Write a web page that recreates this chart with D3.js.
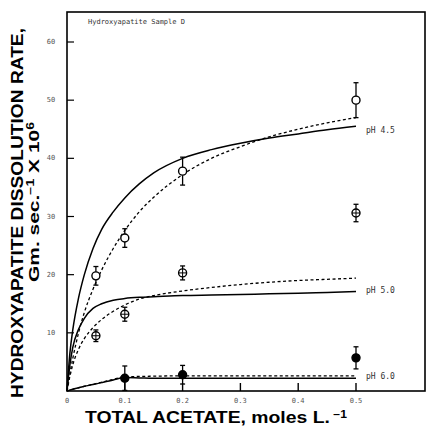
<!DOCTYPE html>
<html>
<head>
<meta charset="utf-8">
<script src="https://cdn.jsdelivr.net/npm/d3@7"></script>
<style>
  html, body { margin: 0; padding: 0; background: #fff; }
  svg { display: block; }
</style>
</head>
<body>
<div id="chart"></div>
<script>
// measured points (open / crossed / filled circles)
const pointX = [0.05, 0.1, 0.2, 0.5];
const ph45Rate = [19.8, 26.3, 37.8, 50.0];
const ph45Err = [1.6, 1.6, 2.4, 3.0];
const ph50Rate = [9.5, 13.2, 20.3, 30.6];
const ph50Err = [1.0, 1.2, 1.2, 1.5];
const ph60X = [0.1, 0.2, 0.5];
const ph60Rate = [2.2, 2.8, 5.7];
const ph60Err = [2.1, 1.6, 1.9];

// fitted curves
const curveX = [0, 0.005, 0.01, 0.02, 0.03, 0.045, 0.06, 0.08, 0.1, 0.125, 0.15, 0.2, 0.25, 0.3, 0.35, 0.4, 0.45, 0.5];
const ph45Solid = [0, 6.5, 10.5, 16.0, 20.0, 24.5, 27.8, 30.8, 33.2, 35.6, 37.5, 40.0, 41.5, 42.6, 43.5, 44.2, 44.9, 45.5];
const ph45Dash = [0, 3.0, 5.6, 10.0, 13.5, 17.5, 20.8, 24.5, 27.6, 30.8, 33.3, 37.2, 40.0, 42.0, 43.7, 45.0, 46.1, 47.0];
const ph50Solid = [0, 4.5, 7.5, 10.6, 12.5, 14.2, 15.0, 15.6, 15.9, 16.1, 16.2, 16.4, 16.5, 16.6, 16.7, 16.8, 16.95, 17.1];
const ph50Dash = [0, 2.5, 4.5, 7.2, 9.0, 10.9, 12.3, 13.7, 14.8, 15.8, 16.4, 17.2, 17.8, 18.3, 18.7, 19.0, 19.2, 19.4];
const ph60Solid = [0, 0.15, 0.3, 0.55, 0.8, 1.1, 1.45, 1.9, 2.3, 2.25, 2.2, 2.2, 2.2, 2.2, 2.2, 2.2, 2.2, 2.2];
const ph60Dash = [0, 0.15, 0.3, 0.55, 0.8, 1.15, 1.5, 2.0, 2.45, 2.5, 2.55, 2.6, 2.6, 2.6, 2.6, 2.6, 2.6, 2.6];

const xTicks = [0, 0.1, 0.2, 0.3, 0.4, 0.5];
const xTickLabels = ["0", "0.1", "0.2", "0.3", "0.4", "0.5"];
const yTicks = [10, 20, 30, 40, 50, 60];
const curveLabels = ["pH 4.5", "pH 5.0", "pH 6.0"];
const curveLabelY = [44.9, 17.3, 2.6];

const width = 428, height = 428;
const frame = {left: 67, top: 12, right: 425, bottom: 391};

const svg = d3.select("#chart").append("svg")
    .attr("width", width).attr("height", height)
    .style("background", "white");

const x = d3.scaleLinear().domain([0, 0.5]).range([67, 356]);
const y = d3.scaleLinear().domain([0, 60]).range([391, 42]);

// frame
svg.append("rect")
    .attr("x", frame.left).attr("y", frame.top)
    .attr("width", frame.right - frame.left).attr("height", frame.bottom - frame.top)
    .attr("fill", "none").attr("stroke", "#000").attr("stroke-width", 1.6);

// ticks pointing inward
svg.append("g").selectAll("line")
    .data(xTicks.slice(1)).join("line")
    .attr("x1", d => x(d)).attr("x2", d => x(d))
    .attr("y1", frame.bottom).attr("y2", frame.bottom - 8)
    .attr("stroke", "#000").attr("stroke-width", 1.4);
svg.append("g").selectAll("line")
    .data(yTicks).join("line")
    .attr("x1", frame.left).attr("x2", frame.left + 7)
    .attr("y1", d => y(d)).attr("y2", d => y(d))
    .attr("stroke", "#000").attr("stroke-width", 1.2);

const tickFont = "'DejaVu Sans Mono', 'Liberation Mono', monospace";
svg.append("g").selectAll("text")
    .data(xTicks).join("text")
    .attr("x", d => x(d)).attr("y", frame.bottom + 12)
    .attr("text-anchor", "middle")
    .style("font-family", tickFont).style("font-size", "7px").attr("fill", "#555")
    .text((d, i) => xTickLabels[i]);
svg.append("g").selectAll("text")
    .data(yTicks).join("text")
    .attr("x", 51).attr("y", d => y(d) + 2)
    .attr("text-anchor", "middle")
    .style("font-family", tickFont).style("font-size", "7px").attr("fill", "#555")
    .text(d => d);

// title inside the frame
svg.append("text").attr("x", 88).attr("y", 24)
    .style("font-family", tickFont).style("font-size", "7px").attr("fill", "#333")
    .text("Hydroxyapatite Sample D");

// curves
const line = ys => d3.line().curve(d3.curveMonotoneX)
    .x((d, i) => x(curveX[i])).y(d => y(d))(ys);
const curves = [
    {v: ph45Solid, dash: null}, {v: ph45Dash, dash: "3,2.5"},
    {v: ph50Solid, dash: null}, {v: ph50Dash, dash: "3,2.5"},
    {v: ph60Solid, dash: null}, {v: ph60Dash, dash: "3,2.5"}
];
svg.append("g").selectAll("path")
    .data(curves).join("path")
    .attr("d", d => line(d.v))
    .attr("fill", "none").attr("stroke", "#000")
    .attr("stroke-width", d => d.dash ? 1.3 : 1.5)
    .attr("stroke-dasharray", d => d.dash);

svg.append("g").selectAll("text")
    .data(curveLabels).join("text")
    .attr("x", 366).attr("y", (d, i) => y(curveLabelY[i]) + 3)
    .style("font-family", tickFont).style("font-size", "8px").attr("fill", "#333")
    .text(d => d);

// error bars + markers
function drawSeries(xs, vals, errs, kind) {
    const g = svg.append("g");
    const pts = xs.map((d, i) => ({x: d, v: vals[i], e: errs[i]}));
    g.selectAll("line.bar").data(pts).join("line").attr("class", "bar")
        .attr("x1", d => x(d.x)).attr("x2", d => x(d.x))
        .attr("y1", d => y(d.v - d.e)).attr("y2", d => y(d.v + d.e))
        .attr("stroke", "#000").attr("stroke-width", 1.3);
    [-1, 1].forEach(s => {
        g.selectAll("line.cap" + (s > 0 ? "u" : "d")).data(pts).join("line")
            .attr("class", "cap" + (s > 0 ? "u" : "d"))
            .attr("x1", d => x(d.x) - 2.5).attr("x2", d => x(d.x) + 2.5)
            .attr("y1", d => y(d.v + s * d.e)).attr("y2", d => y(d.v + s * d.e))
            .attr("stroke", "#000").attr("stroke-width", 1.3);
    });
    g.selectAll("circle").data(pts).join("circle")
        .attr("cx", d => x(d.x)).attr("cy", d => y(d.v)).attr("r", 4)
        .attr("fill", kind === "filled" ? "#000" : "#fff")
        .attr("stroke", "#000").attr("stroke-width", 1.4);
    if (kind === "cross") {
        g.selectAll("path.cross").data(pts).join("path").attr("class", "cross")
            .attr("d", d => `M${x(d.x) - 4},${y(d.v)}H${x(d.x) + 4}M${x(d.x)},${y(d.v) - 4}V${y(d.v) + 4}`)
            .attr("stroke", "#000").attr("stroke-width", 1);
    }
}
drawSeries(pointX, ph45Rate, ph45Err, "open");
drawSeries(pointX, ph50Rate, ph50Err, "cross");
drawSeries(ph60X, ph60Rate, ph60Err, "filled");

// axis titles
const titleFont = "Arial, 'Liberation Sans', sans-serif";
svg.append("text")
    .attr("transform", "translate(23,213) rotate(-90)")
    .attr("text-anchor", "middle")
    .attr("textLength", 370).attr("lengthAdjust", "spacingAndGlyphs")
    .style("font-family", titleFont).style("font-weight", "bold").style("font-size", "17px")
    .text("HYDROXYAPATITE DISSOLUTION RATE,");
const yt2 = svg.append("text")
    .attr("transform", "translate(39,202) rotate(-90)")
    .attr("text-anchor", "middle")
    .attr("textLength", 160).attr("lengthAdjust", "spacingAndGlyphs")
    .style("font-family", titleFont).style("font-weight", "bold").style("font-size", "15px");
yt2.append("tspan").text("Gm. sec.");
yt2.append("tspan").attr("dy", -5).style("font-size", "10px").text("−1");
yt2.append("tspan").attr("dy", 5).text(" X 10");
yt2.append("tspan").attr("dy", -5).style("font-size", "10px").text("6");

const xt = svg.append("text")
    .attr("x", 216).attr("y", 423)
    .attr("text-anchor", "middle")
    .attr("textLength", 262).attr("lengthAdjust", "spacingAndGlyphs")
    .style("font-family", titleFont).style("font-weight", "bold").style("font-size", "16px");
xt.append("tspan").text("TOTAL ACETATE, moles L.");
xt.append("tspan").attr("dy", -5).style("font-size", "10px").text(" −1");
</script>
</body>
</html>
